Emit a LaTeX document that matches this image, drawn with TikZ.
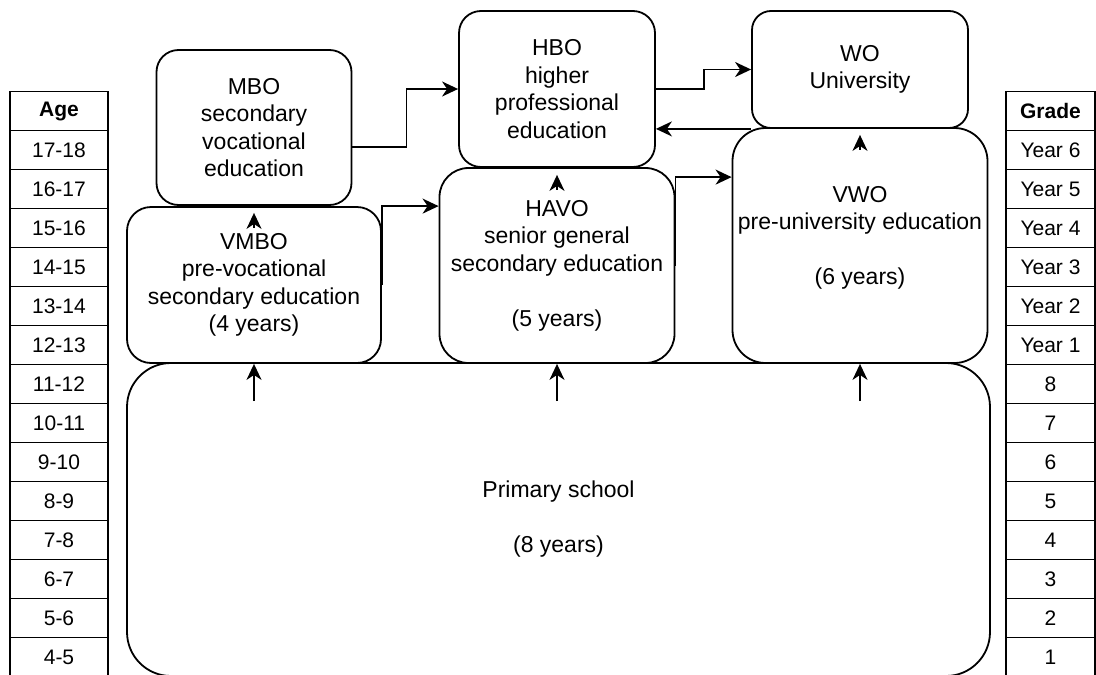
\documentclass[tikz,border=0pt]{standalone}
\usepackage{fontspec}
\setmainfont{Liberation Sans}
\usetikzlibrary{positioning, arrows.meta}

\begin{document}
\begin{tikzpicture}[x=1pt, y=-1pt, line width=1.8pt, node distance=39pt, on grid]
                \tikzset{
                    box/.style={draw, fill=white, align=center, inner sep=0pt, font=\fontsize{23}{27.5}\selectfont},
                    cell/.style={draw, inner sep=0pt, minimum height=39pt, font=\fontsize{21}{25}\selectfont},
                    headcell/.style={cell, font=\fontsize{21}{25}\selectfont\bfseries},
                    arr/.style={-{Stealth[length=16pt, width=15pt, inset=5pt]}}
                }
                \useasboundingbox (0,0) rectangle (1096,675);

                % AGE COLUMN
                \node[headcell, minimum width=98pt] (age0) at (59,111) {Age};
                \foreach \a [count=\j, evaluate=\j as \i using int(\j-1)] in {17-18,16-17,15-16,14-15,13-14,12-13,11-12,10-11,9-10,8-9,7-8,6-7,5-6,4-5}
                    \node[cell, minimum width=98pt] (age\j) [below=of age\i] {\a};

                % GRADE COLUMN
                \node[headcell, minimum width=89pt] (grade0) at (1050.5,111) {Grade};
                \foreach \g [count=\j, evaluate=\j as \i using int(\j-1)] in {Year 6,Year 5,Year 4,Year 3,Year 2,Year 1,8,7,6,5,4,3,2,1}
                    \node[cell, minimum width=89pt] (grade\j) [below=of grade\i] {\g};

                % PRIMARY SCHOOL
                \node[box, minimum width=863pt, minimum height=313pt, rounded corners=44pt] (prim) at (558.5,519.5) {Primary school\\[27.5pt](8 years)};

                % SECONDARY SCHOOLS
                \node[box, minimum width=254pt, minimum height=156pt, rounded corners=24pt] (vmbo) at (254,285) {VMBO\\pre-vocational\\secondary education\\(4 years)};
                \node[box, minimum width=235pt, minimum height=195pt, rounded corners=29pt] (havo) at (557,265.5) {HAVO\\senior general\\secondary education\\[27.5pt](5 years)};
                \node[box, minimum width=255pt, minimum height=235pt, rounded corners=33pt] (vwo) at (860,245.5) {VWO\\pre-university education\\[27.5pt](6 years)\\[-7pt]\mbox{}};

                % FOLLOW-UP EDUCATION
                \node[box, minimum width=195pt, minimum height=155pt, rounded corners=22pt] (mbo) at (254,127.5) {MBO\\secondary\\vocational\\education};
                \node[box, minimum width=196pt, minimum height=156pt, rounded corners=22pt] (hbo) at (557,89) {HBO\\higher\\professional\\education};
                \node[box, minimum width=216pt, minimum height=117pt, rounded corners=19pt] (wo) at (860,69.5) {WO\\University};

                % TRANSITIONS
                \foreach \s in {vmbo, havo, vwo}
                    \draw[arr] ([yshift=-39pt]prim.north -| \s) -- (\s.south);
                \draw[arr] ([yshift=-22pt]mbo.south) -- ([yshift=-7pt]mbo.south);
                \draw[arr] ([yshift=-22pt]hbo.south) -- ([yshift=-7pt]hbo.south);
                \draw[arr] ([yshift=-21pt]wo.south) -- ([yshift=-6pt]wo.south);
                \draw[arr] (vmbo.east) |- (havo.west |- vmbo.north);
                \draw[arr] (havo.east) |- ([yshift=-10pt]vwo.west |- havo.north);
                \draw[arr] ([yshift=-19.5pt]mbo.east) -- ++(54,0) |- (hbo.west);
                \draw[arr] (hbo.east) -- ++(48,0) |- (wo.west);
                \draw[arr] (wo.south west) -- (hbo.east |- wo.south west);

            \end{tikzpicture}
\end{document}
